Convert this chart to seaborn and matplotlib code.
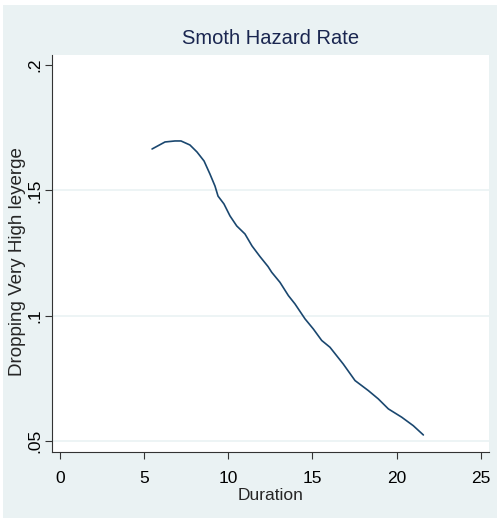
import matplotlib
matplotlib.use("Agg")
import matplotlib.pyplot as plt
import seaborn as sns
import pandas as pd
from matplotlib.patches import Rectangle

duration = [5.47, 6.24, 6.83, 7.19, 7.72, 8.14, 8.56, 8.91, 9.21, 9.39, 9.74, 10.1,
            10.5, 10.99, 11.41, 11.88, 12.36, 12.58, 13.07, 13.57, 13.96, 14.56,
            15.05, 15.55, 16.04, 16.83, 17.53, 18.32, 18.91, 19.51, 20.30, 20.99, 21.59]
hazard = [0.1665, 0.1693, 0.1697, 0.1697, 0.1681, 0.1653, 0.1617, 0.1565, 0.1517,
          0.1477, 0.1446, 0.1398, 0.1358, 0.1326, 0.1278, 0.1236, 0.1196, 0.1173,
          0.1133, 0.1080, 0.1047, 0.0987, 0.0947, 0.0901, 0.0874, 0.0807, 0.0741,
          0.0701, 0.0668, 0.0628, 0.0595, 0.0561, 0.0524]
x_ticks = [0, 5, 10, 15, 20, 25]
y_ticks = [0.05, 0.1, 0.15, 0.2]
y_tick_labels = [".05", ".1", ".15", ".2"]

df = pd.DataFrame({"Duration": duration, "Hazard": hazard})

sns.set_style("white")
fam = ['Liberation Sans', 'DejaVu Sans']
plt.rcParams['font.family'] = fam

W, H = 497, 518
fig = plt.figure(figsize=(W / 100, H / 100), dpi=100)
fig.patch.set_facecolor("white")
bg = "#EAF2F3"
fig.patches.append(Rectangle((3 / W, 0), 1, 1 - 5 / H, transform=fig.transFigure,
                             facecolor=bg, edgecolor="none", zorder=-10))

ax = fig.add_axes([52 / W, 1 - 452 / H, (489 - 52) / W, (452 - 55) / H])
ax.set_facecolor("white")

for yv in [0.05, 0.1, 0.15]:
    ax.axhline(yv, color=bg, lw=1.2, zorder=0)

sns.lineplot(data=df, x="Duration", y="Hazard", ax=ax, color="#1A476F", lw=1.2,
             estimator=None, sort=False)

ax.set_xlim(-0.475, 25.49)
ax.set_ylim(0.0456, 0.204)
ax.set_xticks(x_ticks)
ax.set_xticklabels([str(v) for v in x_ticks])
ax.set_yticks(y_ticks)
ax.set_yticklabels(y_tick_labels, rotation=90, va="center")

for s in ["top", "right"]:
    ax.spines[s].set_visible(False)
for s in ["left", "bottom"]:
    ax.spines[s].set_color("#333333")
    ax.spines[s].set_linewidth(0.8)

ax.tick_params(axis="both", direction="out", length=5, width=0.8, color="#333333",
               labelsize=12.5, labelcolor="black", left=True, bottom=True)
ax.tick_params(axis="x", pad=9)
ax.tick_params(axis="y", pad=2)

ax.set_xlabel("Duration", fontsize=12.5, labelpad=1)
ax.set_ylabel("Dropping Very High leyerge", fontsize=13.5)
ax.yaxis.set_label_coords(-0.060, 0.48)
ax.set_title("Smoth Hazard Rate", fontsize=14.5, color="#1A2650", pad=8)

fig.savefig("out.png", dpi=100, facecolor=fig.get_facecolor())
